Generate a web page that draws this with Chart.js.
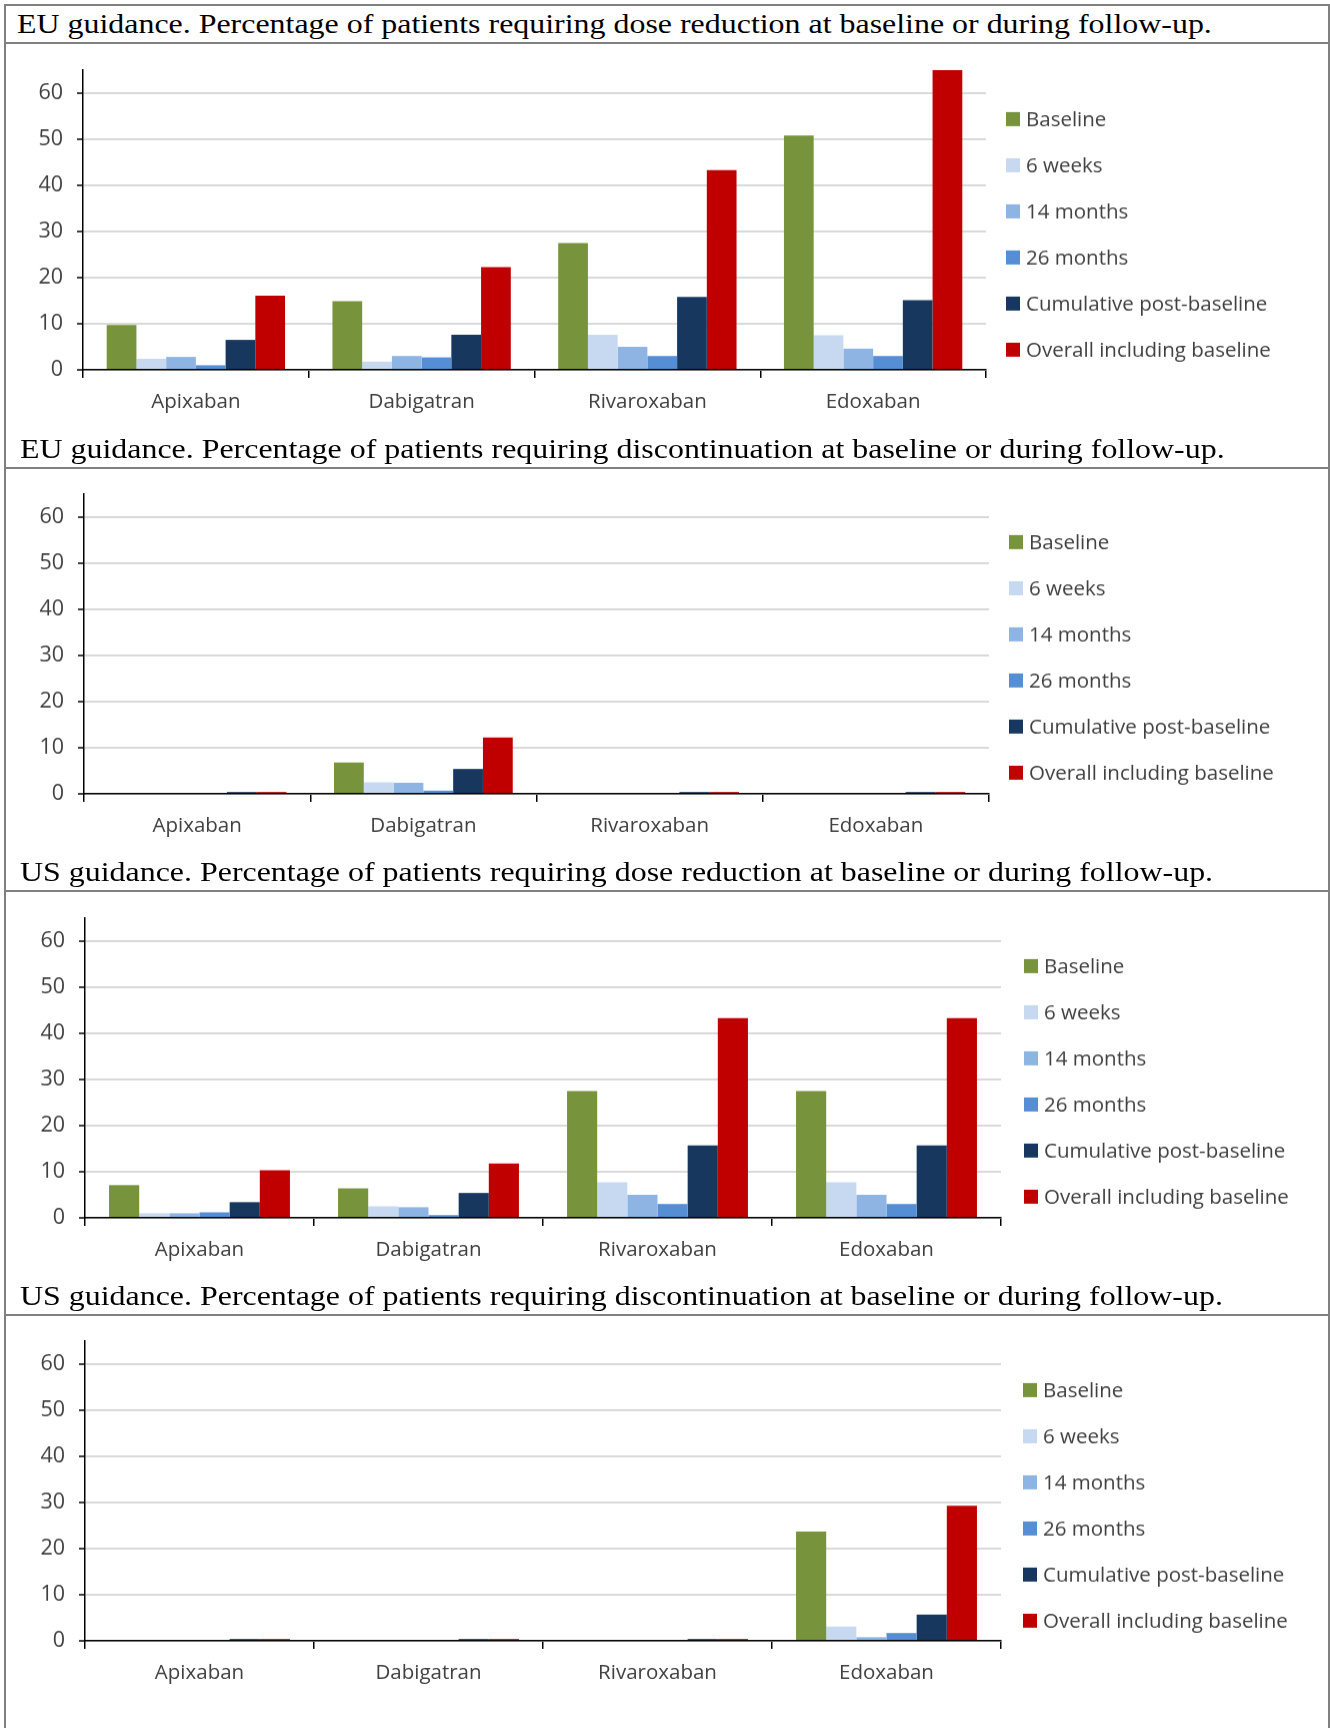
<!DOCTYPE html>
<html>
<head>
<meta charset="utf-8">
<title>Dose reduction and discontinuation by guidance</title>
<script src="https://cdn.jsdelivr.net/npm/chart.js@4.4.1/dist/chart.umd.min.js"></script>
<style>
  html, body { margin: 0; padding: 0; background: #fff; }
  #page { position: relative; width: 1330px; height: 1728px; overflow: hidden; background: #fff; }
  .frame { position: absolute; left: 4px; top: 4px; width: 1326px; height: 1760px;
           border: 2px solid #808080; box-sizing: border-box; }
  .rule { position: absolute; left: 4px; width: 1326px; height: 2px; background: #808080; }
  .title { position: absolute; font: 28px/28px "Liberation Serif", "Times New Roman", serif;
           color: #000; white-space: nowrap; transform-origin: 0 0; transform: scaleX(1.14); }
  canvas { position: absolute; left: 0; }
</style>
</head>
<body>
<div id="page">
  <div class="frame"></div>
</div>
<script>
// ---- data ----
const categories = ['Apixaban', 'Dabigatran', 'Rivaroxaban', 'Edoxaban'];
const seriesNames = ['Baseline', '6 weeks', '14 months', '26 months',
                     'Cumulative post-baseline', 'Overall including baseline'];
const yTickValues = [0, 10, 20, 30, 40, 50, 60];

// EU guidance – dose reduction (%)
const euDoseBaseline = [9.7, 14.9, 27.5, 50.8];
const euDose6w       = [2.4, 1.8, 7.6, 7.5];
const euDose14m      = [2.8, 3.0, 5.0, 4.6];
const euDose26m      = [1.0, 2.7, 3.0, 3.0];
const euDoseCum      = [6.5, 7.6, 15.8, 15.1];
const euDoseOverall  = [16.1, 22.3, 43.3, 65.0];

// EU guidance – discontinuation (%)
const euStopBaseline = [0, 6.8, 0, 0];
const euStop6w       = [0, 2.5, 0, 0];
const euStop14m      = [0, 2.4, 0, 0];
const euStop26m      = [0, 0.7, 0, 0];
const euStopCum      = [0.4, 5.4, 0.4, 0.4];
const euStopOverall  = [0.4, 12.2, 0.4, 0.4];

// US guidance – dose reduction (%)
const usDoseBaseline = [7.1, 6.4, 27.5, 27.5];
const usDose6w       = [1.0, 2.5, 7.7, 7.7];
const usDose14m      = [1.0, 2.3, 5.0, 5.0];
const usDose26m      = [1.2, 0.6, 3.0, 3.0];
const usDoseCum      = [3.4, 5.4, 15.7, 15.7];
const usDoseOverall  = [10.3, 11.8, 43.3, 43.3];

// US guidance – discontinuation (%)
const usStopBaseline = [0, 0, 0, 23.7];
const usStop6w       = [0, 0, 0, 3.1];
const usStop14m      = [0, 0, 0, 0.8];
const usStop26m      = [0, 0, 0, 1.7];
const usStopCum      = [0.4, 0.4, 0.4, 5.7];
const usStopOverall  = [0.4, 0.4, 0.4, 29.3];

const seriesColors = ['#77933C', '#C6D9F1', '#8EB4E3', '#558ED5', '#17375E', '#C00000'];

// ---- layout of the four panels (page pixels) ----
const panels = [
  { title: 'EU guidance. Percentage of patients requiring dose reduction at baseline or during follow-up.',
    series: [euDoseBaseline, euDose6w, euDose14m, euDose26m, euDoseCum, euDoseOverall],
    ruleY: 42, titleX: 17, axisTop: 70, zeroY: 370, axisX: 83, plotRight: 986, legendX: 1006, legendY: 119 },
  { title: 'EU guidance. Percentage of patients requiring discontinuation at baseline or during follow-up.',
    series: [euStopBaseline, euStop6w, euStop14m, euStop26m, euStopCum, euStopOverall],
    ruleY: 467, titleX: 20, axisTop: 494, zeroY: 794, axisX: 84, plotRight: 989, legendX: 1009, legendY: 542 },
  { title: 'US guidance. Percentage of patients requiring dose reduction at baseline or during follow-up.',
    series: [usDoseBaseline, usDose6w, usDose14m, usDose26m, usDoseCum, usDoseOverall],
    ruleY: 890, titleX: 20, axisTop: 918, zeroY: 1218, axisX: 85, plotRight: 1001, legendX: 1024, legendY: 966 },
  { title: 'US guidance. Percentage of patients requiring discontinuation at baseline or during follow-up.',
    series: [usStopBaseline, usStop6w, usStop14m, usStop26m, usStopCum, usStopOverall],
    ruleY: 1314, titleX: 20, axisTop: 1341, zeroY: 1641, axisX: 85, plotRight: 1001, legendX: 1023, legendY: 1390 }
];

const TEXT_FONT = '"Open Sans", "Noto Sans", sans-serif';
const TEXT_SIZE = 20.5;
const Y_TICK_SIZE = 21.5;
const TEXT_COLOR = '#404040';
const X_AXIS_H = 64;

// Legend column drawn to the right of the plot area
const sideLegend = {
  id: 'sideLegend',
  afterDraw(chart, args, opts) {
    const ctx = chart.ctx;
    ctx.save();
    ctx.font = TEXT_SIZE + 'px ' + TEXT_FONT;
    ctx.textBaseline = 'alphabetic';
    ctx.textAlign = 'left';
    chart.data.datasets.forEach((ds, i) => {
      const cy = opts.y + i * opts.step;
      ctx.fillStyle = ds.backgroundColor;
      ctx.fillRect(opts.x, cy - 7, 14, 14);
      ctx.fillStyle = TEXT_COLOR;
      ctx.fillText(ds.label, opts.x + 20, cy + TEXT_SIZE * 0.357);
    });
    ctx.restore();
  }
};

const page = document.getElementById('page');

function makeChart(p, canvasTop, canvasH) {
  const cv = document.createElement('canvas');
  cv.width = 1330; cv.height = canvasH;
  cv.style.width = '1330px'; cv.style.height = canvasH + 'px';
  cv.style.top = canvasTop + 'px';
  page.appendChild(cv);

  return new Chart(cv.getContext('2d'), {
    type: 'bar',
    data: {
      labels: categories,
      datasets: p.series.map((values, i) => ({
        label: seriesNames[i],
        data: values,
        backgroundColor: seriesColors[i],
        borderWidth: 0,
        categoryPercentage: 0.79,
        barPercentage: 1.0
      }))
    },
    options: {
      responsive: false,
      maintainAspectRatio: false,
      animation: false,
      devicePixelRatio: 1,
      layout: { padding: { top: 0, left: 0, right: 1330 - p.plotRight, bottom: 0 } },
      plugins: {
        legend: { display: false },
        tooltip: { enabled: false },
        sideLegend: { x: p.legendX, y: p.legendY - canvasTop, step: 46 }
      },
      scales: {
        x: {
          z: 1,
          grid: { offset: true, drawOnChartArea: false, drawTicks: true, tickLength: 8,
                  color: '#000', lineWidth: 1.5 },
          border: { color: '#000', width: 1.5 },
          ticks: { font: { family: TEXT_FONT, size: TEXT_SIZE }, color: TEXT_COLOR, padding: 12,
                   maxRotation: 0 },
          afterFit(scale) { scale.height = X_AXIS_H; }
        },
        y: {
          min: 0, max: 65,
          afterBuildTicks(scale) { scale.ticks = yTickValues.map(v => ({ value: v })); },
          grid: { color: '#D9D9D9', lineWidth: 2, drawTicks: true, tickLength: 6,
                  tickColor: '#000', tickWidth: 1.5 },
          border: { color: '#000', width: 1.5 },
          ticks: { font: { family: TEXT_FONT, size: Y_TICK_SIZE }, color: TEXT_COLOR, padding: 14 },
          afterFit(scale) { scale.width = p.axisX; }
        }
      }
    },
    plugins: [sideLegend]
  });
}

panels.forEach((p) => {
  const rule = document.createElement('div');
  rule.className = 'rule';
  rule.style.top = p.ruleY + 'px';
  page.appendChild(rule);

  const title = document.createElement('div');
  title.className = 'title';
  title.textContent = p.title;
  title.style.left = p.titleX + 'px';
  title.style.top = (p.ruleY - 8.5 - 23.4) + 'px';
  page.appendChild(title);

  // First pass finds how much room the scales keep above the plot area,
  // then the canvas is placed so the plot area lands where it should.
  const probe = makeChart(p, p.axisTop - 40, 420);
  const above = probe.chartArea.top;
  const below = probe.height - probe.chartArea.bottom;
  const probeCanvas = probe.canvas;
  probe.destroy();
  probeCanvas.remove();

  const plotH = p.zeroY - p.axisTop;
  makeChart(p, p.axisTop - above, above + plotH + below);
});
</script>
</body>
</html>
